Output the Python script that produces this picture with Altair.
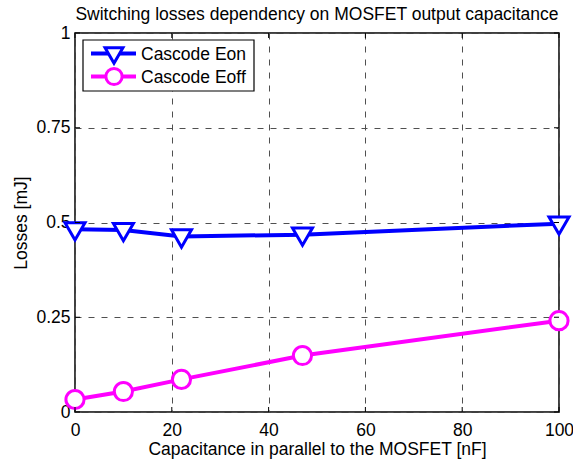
import altair as alt
import pandas as pd

# Measured switching losses vs. extra capacitance across the MOSFET
capacitance_nf = [0, 10, 22, 47, 100]
eon_mj = [0.482, 0.480, 0.463, 0.468, 0.497]
eoff_mj = [0.033, 0.054, 0.086, 0.149, 0.241]

series_names = ["Cascode Eon", "Cascode Eoff"]
series_colors = ["#0000ff", "#ff00ff"]
series_shapes = ["triangle-down", "circle"]
series_sizes = [400, 330]
series_yoffsets = [2, 0]

x_ticks = [0, 20, 40, 60, 80, 100]
y_ticks = [0, 0.25, 0.5, 0.75, 1]

chart_title = ["Switching losses dependency on MOSFET output capacitance"]

W, H = 484, 379
FONT = "Liberation Sans"
FS = 17.5
GRID = "#505050"
DASH = [6, 7]

series_col = []
for name in series_names:
    series_col += [name] * len(capacitance_nf)
df = pd.DataFrame({
    "C": capacitance_nf * 2,
    "E": eon_mj + eoff_mj,
    "series": series_col,
})

x_scale = alt.Scale(domain=[0, 100], nice=False, zero=False)
y_scale = alt.Scale(domain=[0, 1], nice=False, zero=False)
color_scale = alt.Scale(domain=series_names, range=series_colors)

x_axis = alt.Axis(
    values=x_ticks, format="d", title="Capacitance in parallel to the MOSFET [nF]",
    grid=True, gridDash=DASH, gridColor=GRID, gridWidth=1, gridOpacity=1,
    ticks=False, domain=False, labelPadding=9, titlePadding=2,
    labelFlush=False, labelOverlap=False,
)
y_axis = alt.Axis(
    values=y_ticks, format=".2~g", title="Losses [mJ]",
    grid=True, gridDash=DASH, gridColor=GRID, gridWidth=1, gridOpacity=1,
    ticks=False, domain=False, labelPadding=5, titlePadding=5,
    labelFlush=False, labelOverlap=False,
)

base = alt.Chart(df).encode(
    x=alt.X("C:Q", scale=x_scale, axis=x_axis),
    y=alt.Y("E:Q", scale=y_scale, axis=y_axis),
    color=alt.Color("series:N", scale=color_scale, legend=None),
)
lines = base.mark_line(strokeWidth=4)

# One marker layer per series (hollow, white-filled symbols)
point_layers = []
for name, shape, size, yoff in zip(series_names, series_shapes, series_sizes, series_yoffsets):
    point_layers.append(
        base.transform_filter(alt.datum.series == name).mark_point(
            shape=shape, size=size, filled=False, fill="white", fillOpacity=1,
            opacity=1, strokeWidth=3, yOffset=yoff)
    )

# Inward tick marks on all four sides of the box
xt = pd.DataFrame({"C": x_ticks})
yt = pd.DataFrame({"E": y_ticks})
tick_len = 5
xticks_bottom = alt.Chart(xt).mark_rule(color="black", strokeWidth=1).encode(
    x=alt.X("C:Q", scale=x_scale, axis=x_axis), y=alt.value(H), y2=alt.value(H - tick_len))
xticks_top = alt.Chart(xt).mark_rule(color="black", strokeWidth=1).encode(
    x=alt.X("C:Q", scale=x_scale, axis=x_axis), y=alt.value(0), y2=alt.value(tick_len))
yticks_left = alt.Chart(yt).mark_rule(color="black", strokeWidth=1).encode(
    y=alt.Y("E:Q", scale=y_scale, axis=y_axis), x=alt.value(0), x2=alt.value(tick_len))
yticks_right = alt.Chart(yt).mark_rule(color="black", strokeWidth=1).encode(
    y=alt.Y("E:Q", scale=y_scale, axis=y_axis), x=alt.value(W), x2=alt.value(W - tick_len))

# Title above the box
title_layer = alt.Chart(pd.DataFrame({"title": chart_title})).mark_text(
    align="center", baseline="alphabetic", font=FONT, fontSize=FS, color="black"
).encode(x=alt.value(W / 2), y=alt.value(-13), text="title:N")

# Legend box in the upper-left corner
legend_box = alt.Chart(pd.DataFrame({"k": [0]})).mark_rect(
    fill="white", stroke="black", strokeWidth=1.2
).encode(x=alt.value(8), x2=alt.value(179), y=alt.value(7), y2=alt.value(58))

legend_layers = [legend_box]
row_y = [20.5, 43.5]
for name, color, shape, size, yoff, ry in zip(series_names, series_colors, series_shapes,
                                              series_sizes, series_yoffsets, row_y):
    ld = pd.DataFrame({"series": [name]})
    legend_layers.append(
        alt.Chart(ld).mark_rule(color=color, strokeWidth=4).encode(
            x=alt.value(16), x2=alt.value(61), y=alt.value(ry)))
    legend_layers.append(
        alt.Chart(ld).mark_point(shape=shape, filled=False, fill="white", fillOpacity=1,
                                 opacity=1, stroke=color, strokeWidth=3,
                                 size=size * 0.8).encode(
            x=alt.value(39), y=alt.value(ry + yoff)))
    legend_layers.append(
        alt.Chart(ld).mark_text(align="left", baseline="middle", font=FONT, fontSize=FS,
                                color="black").encode(
            x=alt.value(66), y=alt.value(ry + 1), text="series:N"))

chart = alt.layer(
    lines, *point_layers, xticks_bottom, xticks_top, yticks_left, yticks_right,
    title_layer, *legend_layers
).properties(
    width=W, height=H,
    background="white",
    autosize=alt.AutoSizeParams(type="none"),
    padding={"left": 75, "top": 33, "right": 14, "bottom": 52},
).configure_view(
    stroke="black", strokeWidth=1.5
).configure_axis(
    labelFont=FONT, labelFontSize=FS, labelColor="black",
    titleFont=FONT, titleFontSize=FS, titleFontWeight="normal", titleColor="black",
)

chart.save("out.html", embed_options={"renderer": "svg", "actions": False})
